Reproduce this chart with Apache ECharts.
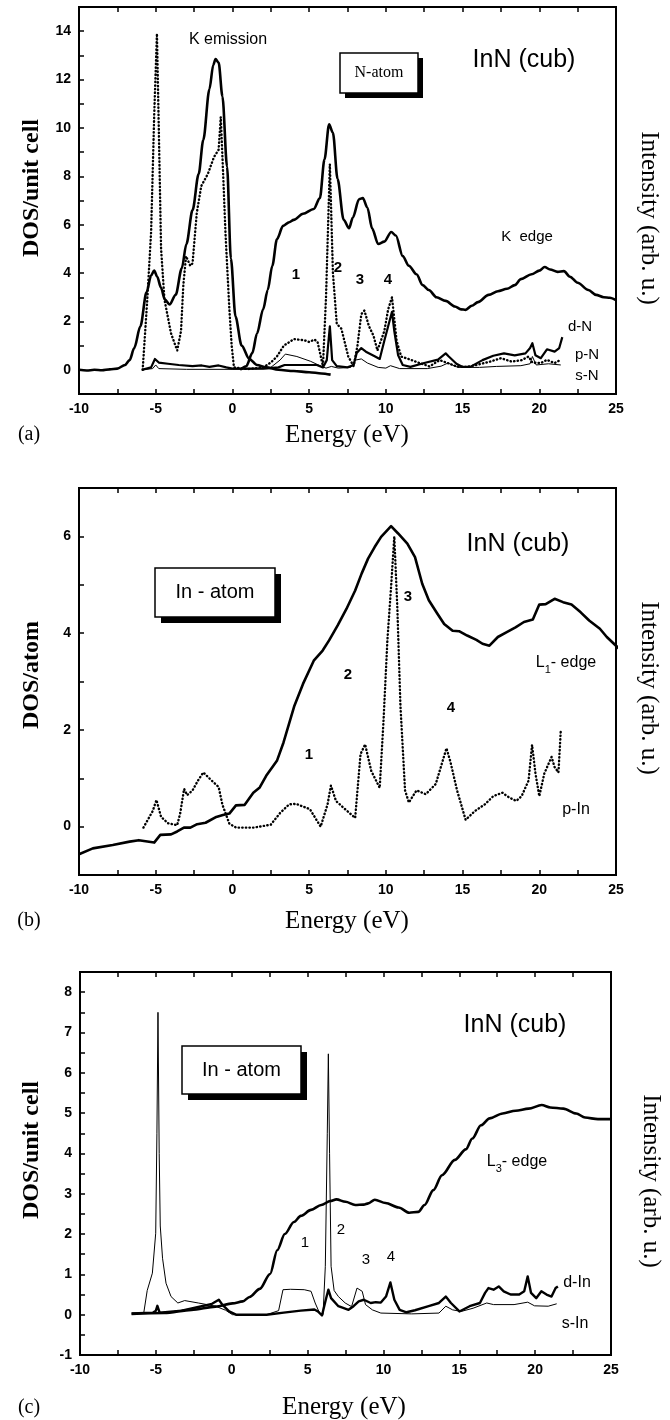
<!DOCTYPE html>
<html><head><meta charset="utf-8">
<script src="https://cdn.jsdelivr.net/npm/echarts@6/dist/echarts.min.js"></script>
<style>html,body{margin:0;padding:0;background:#fff}#c{width:670px;height:1420px}</style>
</head><body><div id="c"></div>
<script>
// ---------- Panel (a): N-atom, K emission / K edge ----------
const kEmission = [[-10,0.0],[-9.5,-0.03],[-9,0.0],[-8.5,-0.02],[-8,0.02],[-7.5,0.05],[-7,0.2],[-6.7,0.4],[-6.4,0.9],[-6.0,1.8],[-5.6,3.2],[-5.3,3.9],[-5.1,4.1],[-4.9,3.85],[-4.66,3.4],[-4.4,2.9],[-4.1,2.7],[-3.7,3.1],[-3.3,4.2],[-3.0,5.2],[-2.6,6.6],[-2.2,8.1],[-1.9,9.5],[-1.5,11.6],[-1.25,12.6],[-1.1,12.85],[-0.9,12.7],[-0.65,11.3],[-0.35,8.4],[-0.1,4.6],[0.2,2.2],[0.6,1.0],[1.1,0.45],[1.6,0.2],[2.2,0.1],[3.0,0.0],[4.0,-0.05],[5.0,-0.1],[5.8,-0.15],[6.4,-0.2]];
const kEdge = [[0.5,0.0],[0.9,0.15],[1.3,0.7],[1.6,1.5],[2.0,2.5],[2.3,3.3],[2.6,4.3],[2.9,5.4],[3.3,5.95],[3.7,6.1],[4.0,6.2],[4.6,6.45],[5.3,6.65],[5.7,7.1],[6.0,8.7],[6.3,10.15],[6.55,9.8],[6.85,7.9],[7.25,6.2],[7.6,5.85],[7.85,6.3],[8.25,7.05],[8.5,7.1],[8.8,6.7],[9.1,5.85],[9.5,5.2],[9.9,5.3],[10.35,5.7],[10.65,5.55],[11.1,4.7],[11.5,4.3],[12.0,3.95],[12.4,3.5],[12.8,3.3],[13.3,3.0],[13.9,2.85],[14.5,2.62],[14.9,2.5],[15.2,2.48],[15.6,2.65],[16.0,2.8],[16.7,3.1],[17.3,3.25],[17.9,3.35],[18.4,3.5],[18.8,3.75],[19.5,3.95],[20.0,4.1],[20.35,4.25],[20.7,4.15],[21.2,4.05],[21.6,4.08],[22.0,3.85],[22.5,3.6],[23.2,3.3],[23.7,3.1],[24.2,3.0],[24.6,2.98],[25,2.88]];
const pN = [[-5.85,0],[-5.55,2.9],[-5.3,5.7],[-5.1,10.5],[-4.92,13.9],[-4.8,10.0],[-4.65,5.0],[-4.43,2.9],[-4.0,1.5],[-3.6,0.8],[-3.35,1.6],[-3.2,3.5],[-3.02,4.7],[-2.75,4.3],[-2.6,4.4],[-2.32,6.5],[-2.03,7.6],[-1.6,8.1],[-1.2,8.8],[-0.9,9.1],[-0.76,10.45],[-0.6,8.0],[-0.45,5.6],[-0.2,2.5],[-0.05,1.0],[0.1,0.1],[1.0,0.03],[2.0,0.1],[2.5,0.3],[2.9,0.55],[3.35,1.0],[4.0,1.27],[4.7,1.22],[5.0,1.15],[5.35,1.25],[5.55,1.15],[5.9,0.15],[6.1,3.0],[6.35,8.5],[6.55,4.0],[6.8,1.9],[7.1,1.7],[7.55,0.55],[7.9,0.15],[8.15,1.0],[8.4,2.3],[8.6,2.45],[8.9,1.8],[9.2,1.4],[9.45,0.8],[9.9,1.6],[10.15,2.5],[10.4,3.0],[10.7,1.2],[11.0,0.55],[11.6,0.42],[12.2,0.28],[12.85,0.14],[13.5,0.4],[13.95,0.3],[14.6,0.14],[15.3,0.12],[15.9,0.2],[16.8,0.34],[17.5,0.48],[18.2,0.34],[18.85,0.4],[19.3,0.55],[19.55,0.3],[20.1,0.28],[20.5,0.41],[21.0,0.28],[21.3,0.38]];
const dN = [[-5.9,0],[-5.3,0.1],[-5.05,0.45],[-4.8,0.3],[-4.2,0.25],[-3.5,0.2],[-2.6,0.15],[-2.0,0.18],[-1.5,0.12],[-0.9,0.18],[-0.4,0.1],[0,0.05],[1,0.05],[2,0.05],[3,0.1],[3.4,0.2],[4.5,0.2],[5.5,0.2],[5.9,0.1],[6.15,0.4],[6.35,1.8],[6.5,0.4],[6.8,0.15],[7.5,0.1],[7.9,0.2],[8.1,0.7],[8.4,0.9],[8.7,0.75],[9.3,0.55],[9.6,0.45],[9.9,1.2],[10.15,1.8],[10.4,2.4],[10.55,1.6],[10.8,0.6],[11.1,0.2],[11.6,0.12],[12.5,0.28],[13.4,0.42],[13.9,0.68],[14.1,0.55],[14.6,0.25],[15.0,0.12],[15.5,0.12],[16.3,0.4],[17.0,0.58],[17.7,0.68],[18.4,0.6],[19.1,0.68],[19.4,0.9],[19.55,1.1],[19.75,0.6],[20.1,0.48],[20.5,0.85],[21.0,0.75],[21.3,0.9],[21.5,1.35]];
const sN = [[-5.9,0],[-5.2,0.05],[-5.0,0.2],[-4.8,0.05],[-3,0.02],[0,0.02],[2.4,0.05],[3.1,0.4],[3.45,0.65],[4.2,0.55],[5.1,0.35],[5.8,0.14],[6.1,0.07],[6.45,0.14],[6.9,0.07],[7.7,0.1],[8.0,0.4],[8.4,0.45],[8.8,0.28],[9.5,0.1],[10.0,0.07],[10.3,0.17],[10.9,0.05],[12.7,0.05],[13.6,0.15],[14.05,0.28],[14.7,0.1],[16.1,0.1],[17.2,0.14],[18.8,0.17],[19.4,0.25],[19.55,0.55],[19.8,0.2],[20.6,0.25],[21.4,0.2]];

// ---------- Panel (b): In-atom, L1 edge ----------
const l1Edge = [[-10,-0.57],[-9.1,-0.45],[-7.8,-0.38],[-6.7,-0.31],[-6.1,-0.28],[-5.1,-0.33],[-4.7,-0.17],[-4.0,-0.16],[-3.6,-0.1],[-3.16,-0.02],[-2.74,-0.02],[-2.3,0.05],[-1.75,0.08],[-1.05,0.2],[-0.62,0.24],[-0.2,0.27],[0.23,0.44],[0.8,0.45],[1.36,0.7],[1.78,0.81],[2.2,1.05],[2.9,1.36],[3.33,1.74],[4.04,2.5],[4.6,2.95],[5.3,3.43],[5.88,3.64],[6.3,3.85],[6.86,4.16],[7.43,4.5],[8.0,4.88],[8.42,5.23],[8.84,5.54],[9.27,5.78],[9.69,5.99],[10.34,6.21],[10.8,6.06],[11.4,5.85],[11.9,5.57],[12.37,5.02],[12.8,4.68],[13.36,4.4],[13.8,4.19],[14.35,4.05],[14.77,4.04],[15.3,3.95],[15.9,3.86],[16.3,3.78],[16.75,3.74],[17.3,3.92],[17.88,4.02],[18.45,4.12],[19.0,4.23],[19.58,4.28],[20.0,4.59],[20.42,4.6],[21.0,4.71],[21.55,4.64],[22.1,4.59],[22.7,4.43],[23.25,4.26],[23.95,4.09],[24.4,3.92],[25.3,3.65]];
const pIn = [[-5.8,-0.02],[-5.2,0.32],[-4.95,0.55],[-4.65,0.2],[-4.2,0.07],[-3.6,0.03],[-3.4,0.28],[-3.15,0.78],[-2.95,0.65],[-2.6,0.75],[-2.25,0.95],[-1.9,1.12],[-1.35,0.95],[-0.9,0.82],[-0.65,0.45],[-0.2,0.06],[0.25,-0.02],[1.4,-0.02],[2.5,0.04],[3.1,0.28],[3.7,0.46],[4.15,0.47],[5.05,0.36],[5.75,0.0],[6.2,0.46],[6.42,0.85],[6.75,0.53],[7.2,0.4],[8.0,0.18],[8.35,1.5],[8.65,1.7],[9.05,1.15],[9.6,0.8],[9.85,2.2],[10.1,3.85],[10.35,5.0],[10.55,6.0],[10.75,4.5],[10.95,2.5],[11.25,0.75],[11.5,0.5],[12.0,0.75],[12.6,0.67],[13.25,0.88],[13.95,1.62],[14.2,1.35],[14.65,0.74],[15.2,0.14],[15.8,0.32],[16.45,0.46],[17.0,0.63],[17.6,0.7],[18.05,0.6],[18.5,0.53],[18.85,0.63],[19.3,0.95],[19.53,1.69],[19.75,1.1],[20.0,0.63],[20.33,1.1],[20.8,1.44],[21.0,1.23],[21.25,1.12],[21.4,1.98]];

// ---------- Panel (c): In-atom, L3 edge ----------
const l3Edge = [[-6.6,0.02],[-4.45,0.04],[-2.65,0.12],[-1.07,0.2],[0.05,0.28],[0.73,0.33],[1.18,0.44],[1.85,0.64],[2.53,1.01],[3.0,1.6],[3.5,2.0],[4.1,2.3],[4.55,2.45],[5.23,2.6],[5.9,2.72],[6.5,2.82],[6.9,2.86],[7.5,2.8],[8.14,2.72],[8.7,2.73],[9.0,2.76],[9.43,2.85],[10.14,2.77],[11.0,2.66],[11.7,2.53],[12.3,2.55],[12.71,2.72],[13.29,3.09],[13.86,3.46],[14.71,3.84],[15.43,4.1],[15.86,4.37],[16.43,4.7],[17.0,4.87],[17.86,4.99],[18.71,5.06],[19.57,5.11],[20.43,5.2],[21.0,5.14],[21.86,5.11],[22.71,4.99],[23.29,4.89],[24.14,4.85],[25,4.85]];
const dIn = [[-6.6,0.03],[-5.2,0.05],[-5.0,0.1],[-4.9,0.22],[-4.75,0.05],[-3.3,0.1],[-2.2,0.19],[-1.3,0.27],[-0.85,0.37],[-0.62,0.25],[-0.17,0.08],[0.28,0.0],[2.3,0.0],[3.43,0.05],[4.55,0.1],[5.45,0.13],[5.68,0.08],[5.95,-0.02],[6.2,0.37],[6.37,0.62],[6.55,0.41],[7.03,0.21],[7.7,0.12],[8.03,0.21],[8.37,0.33],[8.71,0.37],[9.16,0.29],[9.5,0.31],[9.83,0.3],[10.17,0.45],[10.46,0.8],[10.72,0.37],[11.07,0.12],[11.52,0.06],[12.08,0.11],[12.98,0.21],[13.66,0.29],[14.11,0.45],[14.45,0.29],[15.01,0.08],[15.68,0.21],[16.36,0.29],[16.7,0.54],[16.92,0.66],[17.26,0.62],[17.6,0.7],[17.93,0.58],[18.38,0.5],[18.95,0.5],[19.28,0.58],[19.51,0.95],[19.73,0.54],[20.07,0.41],[20.41,0.58],[20.75,0.5],[21.08,0.45],[21.35,0.66],[21.5,0.7]];
const sIn = [[-5.8,0.04],[-5.57,0.6],[-5.23,1.03],[-5.01,2.02],[-4.93,4.5],[-4.86,7.5],[-4.78,4.0],[-4.71,2.2],[-4.56,1.4],[-4.33,0.78],[-4.0,0.45],[-3.55,0.29],[-3.1,0.35],[-2.2,0.29],[-1.07,0.21],[-0.4,0.11],[0.05,0.0],[2.3,0.0],[3.09,0.1],[3.38,0.62],[3.88,0.63],[4.78,0.62],[5.23,0.58],[5.5,0.29],[5.79,0.04],[6.02,0.0],[6.17,1.2],[6.3,4.5],[6.37,6.47],[6.45,4.0],[6.55,1.2],[6.75,0.6],[7.03,0.45],[7.48,0.29],[7.9,0.2],[8.26,0.66],[8.6,0.58],[8.82,0.25],[9.27,0.12],[9.83,0.04],[11.86,0.02],[13.66,0.04],[14.11,0.21],[14.56,0.12],[15.12,0.08],[15.91,0.16],[16.81,0.29],[17.26,0.25],[18.61,0.25],[19.51,0.31],[19.96,0.22],[20.86,0.21],[21.42,0.27]];

// axis ranges / ticks
const xRange = [-10, 25], xStep = 2.5, xLabelStep = 5;
const yA = {min:-1, max:15, step:1, labels:[0,2,4,6,8,10,12,14]};
const yB = {min:-1, max:7, step:1, labels:[0,2,4,6]};
const yC = {min:-1, max:8.5, step:0.5, labels:[-1,0,1,2,3,4,5,6,7,8]};

const SANS = '"Liberation Sans", Arial, sans-serif';
const SERIF = '"Liberation Serif", "Times New Roman", serif';

const grids = [
  {left:79, top:7, width:537, height:387},
  {left:79, top:488, width:537, height:387},
  {left:80, top:972, width:531, height:383}
].map(g => Object.assign(g, {show:true, borderColor:'#000', borderWidth:2, backgroundColor:'transparent'}));

const tick = {show:true, inside:true, length:5, lineStyle:{color:'#000', width:1.5}};
const xAxis = [], yAxis = [];
[yA, yB, yC].forEach((yr, i) => {
  xAxis.push({type:'value', gridIndex:i, position:'bottom', min:xRange[0], max:xRange[1], interval:xStep,
    axisLine:{show:true, onZero:false, lineStyle:{color:'#000', width:2}}, axisTick:tick, splitLine:{show:false},
    axisLabel:{margin:8, color:'#000', fontFamily:SANS, fontWeight:'bold', fontSize:14,
      formatter: v => (Math.abs(v % xLabelStep) < 1e-9 ? String(v) : '')}});
  xAxis.push({type:'value', gridIndex:i, position:'top', min:xRange[0], max:xRange[1], interval:xStep,
    axisLine:{show:true, onZero:false, lineStyle:{color:'#000', width:2}}, axisTick:tick, splitLine:{show:false},
    axisLabel:{show:false}});
  yAxis.push({type:'value', gridIndex:i, position:'left', min:yr.min, max:yr.max, interval:yr.step,
    axisLine:{show:true, onZero:false, lineStyle:{color:'#000', width:2}}, axisTick:tick, splitLine:{show:false},
    axisLabel:{margin:8, color:'#000', fontFamily:SANS, fontWeight:'bold', fontSize:14,
      formatter: v => (yr.labels.some(l => Math.abs(l - v) < 1e-9) ? String(Math.round(v)) : '')}});
});

function line(data, gi, width, dotted, smooth) {
  return {type:'line', xAxisIndex:gi*2, yAxisIndex:gi, data, showSymbol:false, symbol:'none',
    smooth: smooth ? 0.3 : false, smoothMonotone: smooth ? 'x' : undefined,
    lineStyle:{color:'#000', width, type: dotted ? [0.4, 3.2] : 'solid', cap: dotted ? 'round' : 'butt', join:'round'},
    silent:true, animation:false};
}
const series = [
  line(kEmission, 0, 2.6, false, true),
  line(kEdge, 0, 2.6, false, true),
  line(pN, 0, 2.4, true, false),
  line(dN, 0, 2.2, false, false),
  line(sN, 0, 1, false, false),
  line(l1Edge, 1, 2.6, false, false),
  line(pIn, 1, 2.4, true, false),
  line(l3Edge, 2, 2.6, false, true),
  line(dIn, 2, 2.4, false, false),
  line(sIn, 2, 1, false, false)
];

function txt(x, y, text, size, opts) {
  opts = opts || {};
  return {type:'text', x, y, rotation: opts.rot || 0, z:100,
    style:{text, fill:'#000', fontSize:size, fontFamily: opts.family || SANS, fontWeight: opts.weight || 'normal',
      align:'center', verticalAlign:'middle', textAlign:'center', textVerticalAlign:'middle', rich: opts.rich}};
}
function box(x, y, w, h, off, label, size, family) {
  return [
    {type:'rect', z:90, shape:{x:x+off, y:y+off, width:w, height:h}, style:{fill:'#000'}},
    {type:'rect', z:91, shape:{x, y, width:w, height:h}, style:{fill:'#fff', stroke:'#000', lineWidth:1.5}},
    txt(x + w/2, y + h/2, label, size, {family})
  ];
}
const B = {weight:'bold'};
const subRich = {a:{fontSize:16, fontFamily:SANS}, s:{fontSize:11, fontFamily:SANS, padding:[14,0,0,0]}};
const graphic = [
  // panel (a)
  txt(32, 188, 'DOS/unit cell', 24, {family:SERIF, weight:'bold', rot:Math.PI/2}),
  txt(649, 218, 'Intensity (arb. u.)', 25, {family:SERIF, rot:-Math.PI/2}),
  txt(347, 435, 'Energy (eV)', 25, {family:SERIF}),
  txt(29, 435, '(a)', 20, {family:SERIF}),
  txt(228, 40, 'K emission', 16),
  ...box(340, 53, 78, 40, 5, 'N-atom', 16, SERIF),
  txt(524, 60, 'InN (cub)', 25),
  txt(527, 237, 'K  edge', 15),
  txt(296, 275, '1', 15, B), txt(338, 268, '2', 15, B), txt(360, 280, '3', 15, B), txt(388, 280, '4', 15, B),
  txt(580, 327, 'd-N', 15), txt(587, 355, 'p-N', 15), txt(587, 376, 's-N', 15),
  // panel (b)
  txt(32, 675, 'DOS/atom', 24, {family:SERIF, weight:'bold', rot:Math.PI/2}),
  txt(649, 688, 'Intensity (arb. u.)', 25, {family:SERIF, rot:-Math.PI/2}),
  txt(347, 921, 'Energy (eV)', 25, {family:SERIF}),
  txt(29, 921, '(b)', 20, {family:SERIF}),
  ...box(155, 568, 120, 49, 6, 'In - atom', 20, SANS),
  txt(518, 544, 'InN (cub)', 25),
  txt(408, 597, '3', 15, B), txt(348, 675, '2', 15, B), txt(451, 708, '4', 15, B), txt(309, 755, '1', 15, B),
  txt(566, 663, '{a|L}{s|1}{a|- edge}', 16, {rich:subRich}),
  txt(576, 810, 'p-In', 16),
  // panel (c)
  txt(32, 1150, 'DOS/unit cell', 24, {family:SERIF, weight:'bold', rot:Math.PI/2}),
  txt(651, 1181, 'Intensity (arb. u.)', 25, {family:SERIF, rot:-Math.PI/2}),
  txt(344, 1407, 'Energy (eV)', 25, {family:SERIF}),
  txt(29, 1408, '(c)', 20, {family:SERIF}),
  ...box(182, 1046, 119, 48, 6, 'In - atom', 20, SANS),
  txt(515, 1025, 'InN (cub)', 25),
  txt(517, 1162, '{a|L}{s|3}{a|- edge}', 16, {rich:subRich}),
  txt(305, 1243, '1', 15), txt(341, 1230, '2', 15), txt(366, 1260, '3', 15), txt(391, 1257, '4', 15),
  txt(577, 1283, 'd-In', 16), txt(575, 1324, 's-In', 16)
];

const chart = echarts.init(document.getElementById('c'), null, {renderer:'canvas'});
chart.setOption({animation:false, backgroundColor:'#fff', grid:grids, xAxis, yAxis, series, graphic});
</script>
</body></html>
